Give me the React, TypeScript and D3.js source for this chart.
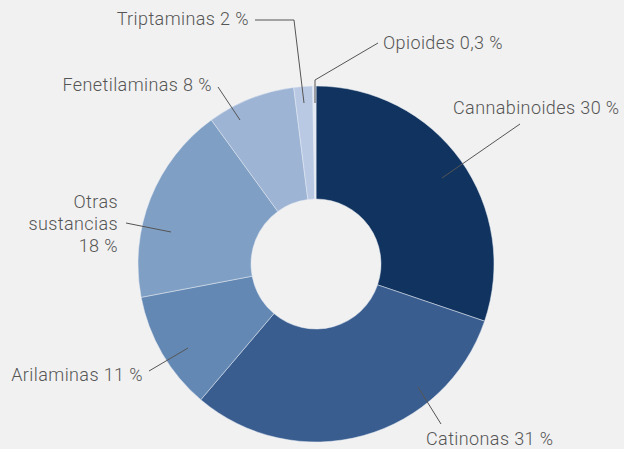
import React, { useEffect, useRef } from "react";
import * as d3 from "d3";

const categories = [
  "Cannabinoides",
  "Catinonas",
  "Arilaminas",
  "Otras sustancias",
  "Fenetilaminas",
  "Triptaminas",
  "Opioides",
];
const values = [30.2, 31, 10.8, 18, 8, 1.7, 0.3];
const valueLabels = ["30 %", "31 %", "11 %", "18 %", "8 %", "2 %", "0,3 %"];
const colors = ["#10335f", "#3a5d90", "#6488b4", "#7f9fc4", "#9db4d4", "#b9c9e4", "#e3eaf5"];

// label placement relative to the pie centre
const labelLayout = [
  { line: [[126, -86], [204, -140]], text: [137, -156], anchor: "start", lines: ["Cannabinoides"] },
  { line: [[102, 123], [125, 160]], text: [110, 175], anchor: "start", lines: ["Catinonas"] },
  { line: [[-128, 84], [-167, 107]], text: [-173, 111], anchor: "end", lines: ["Arilaminas"] },
  { line: [[-145, -32], [-190, -41]], text: [-198, -62], anchor: "end", lines: ["Otras", "sustancias"] },
  { line: [[-76, -144], [-98, -177]], text: [-104, -179], anchor: "end", lines: ["Fenetilaminas"] },
  { line: [[-12, -161], [-22, -244], [-61, -244]], text: [-67, -245], anchor: "end", lines: ["Triptaminas"] },
  { line: [[-1, -161], [-1, -184], [62, -221]], text: [67, -221], anchor: "start", lines: ["Opioides"] },
];

const W = 624;
const H = 449;

export default function App() {
  const svgRef = useRef<SVGSVGElement>(null);

  useEffect(() => {
    document.body.style.margin = "0";
    const svg = d3.select(svgRef.current);
    svg.selectAll("*").remove();

    svg.append("rect").attr("width", W).attr("height", H).attr("fill", "#f1f1f1");

    const cx = 316;
    const cy = 264;
    const outer = 178;
    const inner = 65;

    const data = categories.map((c, i) => ({ name: c, value: values[i], color: colors[i] }));

    const pie = d3
      .pie<any>()
      .sort(null)
      .value((d) => d.value);
    const arc = d3.arc<any>().innerRadius(inner).outerRadius(outer);

    const g = svg.append("g").attr("transform", `translate(${cx},${cy})`);

    g.selectAll(".slice")
      .data(pie(data))
      .enter()
      .append("path")
      .attr("class", "slice")
      .attr("d", arc)
      .attr("fill", (d) => d.data.color)
      .attr("stroke", "#e4eaf2")
      .attr("stroke-width", 0.5);

    const line = d3.line();
    g.selectAll(".leader")
      .data(labelLayout)
      .enter()
      .append("path")
      .attr("class", "leader")
      .attr("d", (d) => line(d.line as [number, number][]))
      .attr("fill", "none")
      .attr("stroke", "#555")
      .attr("stroke-width", 1);

    // the value goes on the same line, or on its own line for wrapped labels
    const labelLines = (d: any, i: number) => {
      const v = valueLabels[i];
      if (d.lines.length > 1) return [...d.lines, v];
      return [d.lines[0] + " " + v];
    };

    const labels = g
      .selectAll(".label")
      .data(labelLayout)
      .enter()
      .append("text")
      .attr("class", "label")
      .attr("x", (d) => d.text[0])
      .attr("y", (d) => d.text[1])
      .attr("text-anchor", (d) => d.anchor)
      .attr("font-family", "Roboto, sans-serif")
      .attr("font-weight", 300)
      .attr("font-size", 18)
      .attr("letter-spacing", 0.4)
      .attr("fill", "#555");

    labels
      .selectAll("tspan")
      .data((d, i) => labelLines(d, i).map((t) => ({ t, x: d.text[0] })))
      .enter()
      .append("tspan")
      .attr("x", (d) => d.x)
      .attr("dy", (_d, i) => (i === 0 ? "0.35em" : 22))
      .text((d) => d.t);
  }, []);

  return <svg ref={svgRef} width={W} height={H} style={{ display: "block" }} />;
}
